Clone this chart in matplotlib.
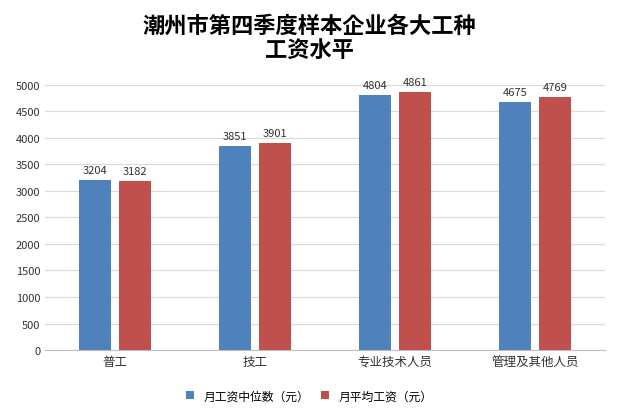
import matplotlib
matplotlib.use("Agg")
import matplotlib.pyplot as plt
from matplotlib import font_manager
import numpy as np

cjk = [f.name for f in font_manager.fontManager.ttflist if "CJK" in f.name]
pref = [n for n in ["Noto Sans CJK SC", "Noto Sans CJK JP", "Noto Sans CJK TC", "Noto Sans CJK KR"] if n in cjk] + cjk
plt.rcParams['font.family'] = 'sans-serif'
plt.rcParams['font.sans-serif'] = pref[:1] + ['DejaVu Sans']

categories = ["普工", "技工", "专业技术人员", "管理及其他人员"]
median = [3204, 3851, 4804, 4675]
average = [3182, 3901, 4861, 4769]
series_names = ["月工资中位数（元）", "月平均工资（元）"]
yticks = list(range(0, 5001, 500))

fig = plt.figure(figsize=(6.18, 4.14), dpi=100)
ax = fig.add_axes([0.073, 0.152, 0.906, 0.705])
x = np.arange(len(categories))
w = 0.23
off = 0.143
b1 = ax.bar(x - off, median, w, color="#4F81BD", label=series_names[0], zorder=3)
b2 = ax.bar(x + off, average, w, color="#C0504D", label=series_names[1], zorder=3)
for bars in (b1, b2):
    for r in bars:
        ax.text(r.get_x() + r.get_width()/2, r.get_height() + 90, f"{int(r.get_height())}",
                ha="center", va="bottom", fontsize=8, color="#333333")
ax.set_xlim(-0.5, len(categories) - 0.5)
ax.set_ylim(0, 5500)
ax.set_yticks(yticks)
ax.set_xticks(x)
ax.set_xticklabels(categories, fontsize=9)
ax.tick_params(axis='y', labelsize=8, length=0, colors="#333333")
ax.tick_params(axis='x', length=0, colors="#333333")
ax.grid(axis='y', color="#D9D9D9", linewidth=0.8, zorder=0)
for s in ["top", "right", "left"]:
    ax.spines[s].set_visible(False)
ax.spines["bottom"].set_color("#BFBFBF")
fig.text(0.5, 0.965, "潮州市第四季度样本企业各大工种\n工资水平", ha="center", va="top",
         fontsize=16, fontweight="bold", linespacing=1.1)
fig.legend(loc="lower center", bbox_to_anchor=(0.5, 0.0), ncol=2, frameon=False,
           fontsize=8.5, handlelength=0.7, handleheight=0.7, columnspacing=1.0)
fig.savefig("out.png", dpi=100)
